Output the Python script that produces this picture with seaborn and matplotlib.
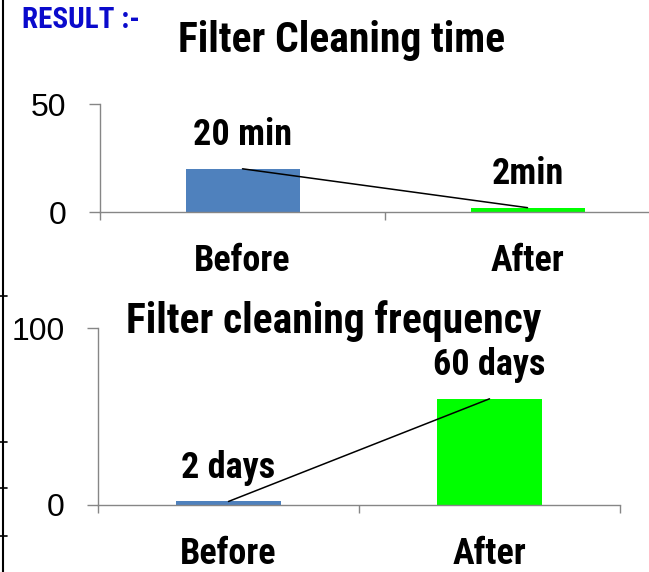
import matplotlib
matplotlib.use('Agg')
import matplotlib.pyplot as plt
import seaborn as sns
from matplotlib import font_manager as fm
from matplotlib.lines import Line2D
from matplotlib.ticker import FixedLocator

# data
stages = ['Before', 'After']
clean_time = [20, 2]
time_labels = ['20 min', '2min']
clean_freq = [2, 60]
freq_labels = ['2 days', '60 days']
time_ticks = [0, 50]
freq_ticks = [0, 100]

bar_colors = ['#4F81BD', '#00FF00']
axis_gray = '#868686'
W, H = 649, 572


def narrow_bold():
    """find a condensed bold face, the chart uses something like Arial Narrow"""
    wanted = ['liberationsansnarrow-bold.', 'robotocondensed-bold.',
              'notosans-condensedbold.', 'opensans-condensedbold.',
              'dejavusanscondensed-bold.']
    files = [f.fname for f in fm.fontManager.ttflist]
    for w in wanted:
        for fn in files:
            if fn.lower().split('/')[-1].startswith(w):
                return fm.FontProperties(fname=fn)
    return fm.FontProperties(family='Liberation Sans', weight='bold')


sns.set_theme(style='white')
plt.rcParams['font.family'] = ['Liberation Sans', 'DejaVu Sans']
plt.rcParams['text.color'] = 'black'
plt.rcParams['xtick.color'] = 'black'
plt.rcParams['ytick.color'] = 'black'
bold = narrow_bold()


def draw(ax, vals, labels, yticks):
    """Bar chart with a line joining the bar tops, excel style"""
    sns.barplot(x=stages, y=vals, hue=stages, palette=bar_colors, saturation=1,
                width=0.4, linewidth=0, legend=False, ax=ax)
    ax.plot(range(len(stages)), vals, color='black', lw=1.1, zorder=5)
    for i, (v, t) in enumerate(zip(vals, labels)):
        ax.annotate(t, (i, v), xytext=(0, 24), textcoords='offset points',
                    ha='center', va='center', fontproperties=bold,
                    fontsize=26, color='black')

    ax.set_ylim(yticks[0], yticks[-1])
    ax.set_yticks(yticks)
    ax.set_xlim(-0.5, len(stages) - 0.5)
    ax.set_xticks(range(len(stages)))
    ax.set_xticklabels(stages, fontproperties=bold, fontsize=26)
    ax.xaxis.set_minor_locator(FixedLocator([-0.5, 0.5, 1.5]))
    ax.set_xlabel('')
    ax.set_ylabel('')

    sns.despine(ax=ax)
    for side in ['left', 'bottom']:
        ax.spines[side].set_color(axis_gray)
        ax.spines[side].set_linewidth(1)

    ax.tick_params(axis='x', which='major', bottom=False, pad=16)
    ax.tick_params(axis='x', which='minor', bottom=True, length=6, width=1,
                   color=axis_gray, direction='out')
    ax.tick_params(axis='y', left=True, length=8, width=1, color=axis_gray,
                   direction='out', pad=16, labelsize=23,
                   labelfontfamily='Liberation Sans')


fig = plt.figure(figsize=(W / 100, H / 100), dpi=100)
ax1 = fig.add_axes([100 / W, 1 - 212 / H, 570 / W, 108 / H])
ax2 = fig.add_axes([98 / W, 1 - 505 / H, 522 / W, 177 / H])

draw(ax1, clean_time, time_labels, time_ticks)
draw(ax2, clean_freq, freq_labels, freq_ticks)

# titles
fig.text(22 / W, 1 - 28 / H, 'RESULT :-', color='#0A0ACC', fontsize=21,
         fontproperties=bold, ha='left', va='baseline')
fig.text(342 / W, 1 - 52 / H, 'Filter Cleaning time', fontsize=30,
         fontproperties=bold, ha='center', va='baseline')
fig.text(334 / W, 1 - 333 / H, 'Filter cleaning frequency', fontsize=30,
         fontproperties=bold, ha='center', va='baseline')

# table border bits on the left edge
fig.add_artist(Line2D([3 / W, 3 / W], [0, 1], color='black', lw=1.5))
for yy in [296, 442, 488, 536]:
    fig.add_artist(Line2D([0, 7 / W], [1 - yy / H] * 2, color='black', lw=1.2))

fig.savefig('out.png', dpi=100)
